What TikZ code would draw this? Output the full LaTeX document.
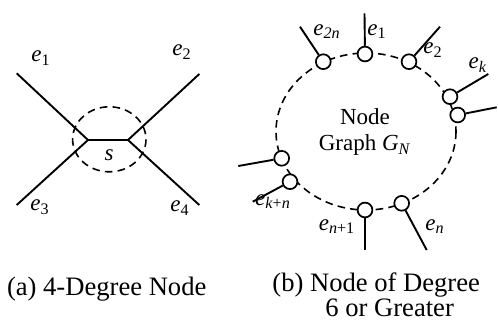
\documentclass[tikz,border=0pt]{standalone}
\usepackage{fontspec}
\setmainfont{Liberation Serif}
\newcommand{\edge}[1]{\textit{e}\textsubscript{#1}}
\tikzset{
  port/.style={circle,draw,fill=white,line width=0.85pt,inner sep=0pt,minimum size=7.4pt},
  wire/.style={line width=0.95pt},
  ring/.style={line width=0.8pt,dash pattern=on 3.8pt off 2.6pt},
  lab/.style={font=\fontsize{11.5}{13}\selectfont,inner sep=0pt},
  captext/.style={font=\fontsize{13.3}{10.9}\selectfont,inner sep=0pt}
}
\begin{document}
\begin{tikzpicture}[x=0.5pt,y=-0.5pt]
\useasboundingbox (0,0) rectangle (498,322);
% (a) 4-degree node
\draw[ring] (109.3,139.3) ellipse [x radius=36.7, y radius=32.5];
\coordinate (s1) at (88,140);
\coordinate (s2) at (128,140);
\coordinate (a1) at (16.7,73.3);
\coordinate (a2) at (199.3,74);
\coordinate (a3) at (16.7,205);
\coordinate (a4) at (199.3,205);
\foreach \u/\v in {s1/s2,s1/a1,s1/a3,s2/a2,s2/a4} \draw[wire] (\u)--(\v);
\node[lab] (l1) at (41,58) {\edge{1}};
\node[lab] (l2) at (182,52) {\edge{2}};
\node[lab] (l3) at (40,207) {\edge{3}};
\node[lab] (l4) at (180,208) {\edge{4}};
\node[lab] (ls) at (109,155) {\textit{s}};
% (b) node of degree 6 or greater
\draw[ring] (366,131.5) ellipse [x radius=90, y radius=78.5];
\node[port] (p1) at (323.3,61.7) {};
\node[port] (p2) at (365,54) {};
\node[port] (p3) at (409,61.7) {};
\node[port] (p4) at (450,96.7) {};
\node[port] (p5) at (457.7,115) {};
\node[port] (p6) at (281.7,158.3) {};
\node[port] (p7) at (290,181.7) {};
\node[port] (p8) at (365,210) {};
\node[port] (p9) at (401.7,203.3) {};
\coordinate (b1) at (300,26.7);
\coordinate (b2) at (364.5,13.3);
\coordinate (b3) at (440,26.7);
\coordinate (b4) at (488.3,74);
\coordinate (b5) at (496.7,107.3);
\coordinate (b6) at (238.3,166);
\coordinate (b7) at (252.7,201.7);
\coordinate (b8) at (365,250);
\coordinate (b9) at (426.7,250);
\foreach \i in {1,...,9} \draw[wire] (p\i)--(b\i);
\node[lab] (m1) at (327,31.7) {\edge{\textit{2n}}};
\node[lab] (m2) at (377,31.7) {\edge{1}};
\node[lab] (m3) at (433,50) {\edge{2}};
\node[lab] (m4) at (478,65) {\edge{\textit{k}}};
\node[lab] (m7) at (273,201.7) {\edge{\textit{k}+\textit{n}}};
\node[lab] (m8) at (337,226.7) {\edge{\textit{n}+1}};
\node[lab] (m9) at (435,226.7) {\edge{\textit{n}}};
\node[lab,align=center] (gn) at (365,132) {Node\\Graph \textit{G}\textsubscript{\textit{N}}};
% captions
\node[captext] (ca) at (106.7,289) {(a) 4-Degree Node};
\node[captext,align=left,anchor=north west] (cb) at (272,272) {(b) Node of Degree\\\hspace*{26.5pt}6 or Greater};
\end{tikzpicture}
\end{document}
